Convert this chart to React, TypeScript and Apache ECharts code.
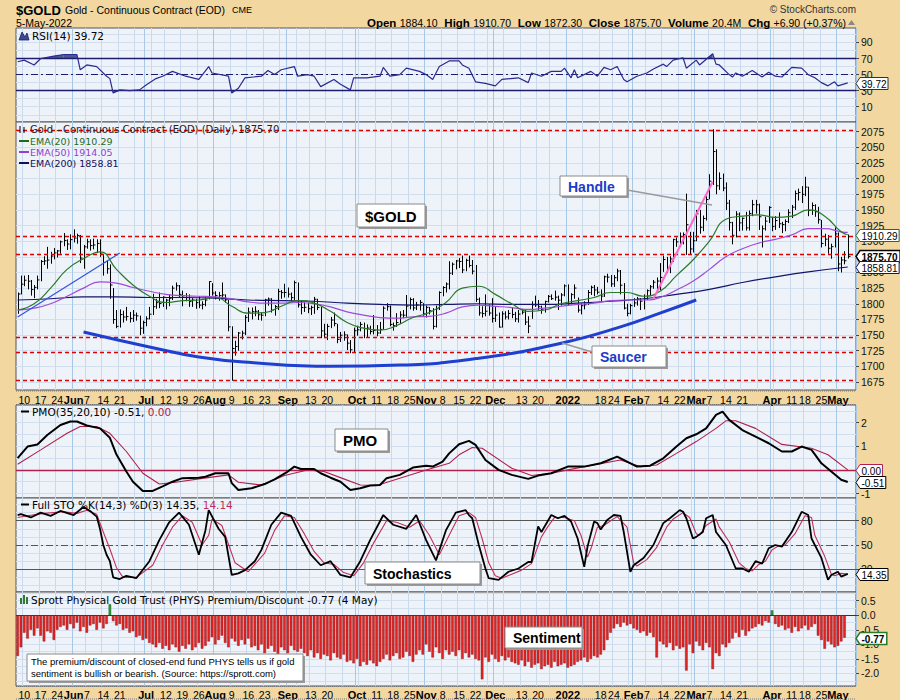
import React, { useEffect, useRef } from "react";
import * as echarts from "echarts";

// ---------------- DATA ----------------
const startDate = "2021-05-06";
const endDate = "2022-05-05";
const holidays = ["2021-05-31", "2021-07-05", "2021-09-06", "2021-11-25", "2021-12-24", "2022-01-17", "2022-02-21", "2022-04-15"];
const labelDates = ["2021-05-10", "2021-05-17", "2021-05-24", "2021-06-01", "2021-06-07", "2021-06-14", "2021-06-21", "2021-07-01", "2021-07-12", "2021-07-19", "2021-07-26", "2021-08-02", "2021-08-09", "2021-08-16", "2021-08-23", "2021-09-01", "2021-09-13", "2021-09-20", "2021-10-01", "2021-10-11", "2021-10-18", "2021-10-25", "2021-11-01", "2021-11-08", "2021-11-15", "2021-11-22", "2021-12-01", "2021-12-13", "2021-12-20", "2022-01-03", "2022-01-18", "2022-01-24", "2022-02-01", "2022-02-07", "2022-02-14", "2022-02-22", "2022-03-01", "2022-03-07", "2022-03-14", "2022-03-21", "2022-04-01", "2022-04-11", "2022-04-18", "2022-04-25", "2022-05-02"];
const monthNames = ["2022", "Feb", "Mar", "Apr", "May", "Jun", "Jul", "Aug", "Sep", "Oct", "Nov", "Dec"];

const highs = [
  1818, 1845, 1845, 1846, 1838, 1830, 1845, 1870, 1876, 1891, 1883, 1889, 1886, 1901, 1913, 1903, 1911,
  1919, 1912, 1910, 1894, 1904, 1903, 1904, 1903, 1903, 1878, 1870, 1863, 1825, 1790, 1791, 1789, 1795, 1787, 1790, 1786, 1781, 1773,
  1780, 1795, 1816, 1808, 1818, 1812, 1808, 1815, 1829, 1834, 1830, 1821, 1817, 1815, 1809, 1808, 1812, 1804, 1810, 1836, 1833,
  1820, 1819, 1834, 1815, 1806, 1764, 1741, 1755, 1757, 1782, 1794, 1794, 1796, 1790, 1786, 1808, 1810, 1809, 1798, 1824, 1822, 1832,
  1826, 1818, 1837, 1834, 1805, 1802, 1802, 1797, 1811, 1808, 1795, 1768, 1768, 1779, 1786, 1768, 1755, 1756, 1751, 1742, 1762,
  1765, 1771, 1770, 1767, 1765, 1782, 1766, 1771, 1796, 1801, 1797, 1770, 1785, 1788, 1790, 1814, 1810, 1809, 1803, 1806, 1801,
  1797, 1795, 1793, 1797, 1820, 1828, 1834, 1868, 1866, 1870, 1873, 1877, 1872, 1877, 1870, 1862, 1810, 1796, 1815, 1799, 1809,
  1795, 1786, 1788, 1788, 1790, 1794, 1787, 1790, 1792, 1790, 1780, 1804, 1813, 1806, 1797, 1805, 1814, 1815, 1821, 1813, 1817, 1831,
  1831, 1817, 1831, 1810, 1801, 1804, 1822, 1829, 1830, 1827, 1823, 1845, 1848, 1846, 1846, 1856, 1854, 1833, 1800, 1800,
  1809, 1811, 1809, 1815, 1823, 1830, 1838, 1842, 1865, 1877, 1875, 1876, 1904, 1906, 1914, 1914, 1976, 1915, 1915,
  1950, 1950, 1941, 1972, 2007, 2079, 2047, 2010, 2008, 1994, 1966, 1931, 1948, 1946, 1938, 1947, 1949, 1966, 1966, 1960, 1925, 1939, 1956,
  1939, 1940, 1946, 1931, 1935, 1951, 1958, 1981, 1984, 1988, 2003, 1987, 1962, 1959, 1955, 1934, 1912, 1910, 1896, 1922,
  1914, 1875, 1884, 1910.7,
];
const lows = [
  1784, 1815, 1828, 1823, 1813, 1809, 1823, 1836, 1862, 1856, 1864, 1871, 1874, 1880, 1892, 1886, 1887,
  1898, 1896, 1865, 1856, 1888, 1885, 1887, 1881, 1875, 1845, 1848, 1808, 1768, 1761, 1762, 1770, 1773, 1770, 1771, 1773, 1750, 1752,
  1764, 1775, 1782, 1792, 1793, 1795, 1791, 1796, 1806, 1821, 1810, 1796, 1804, 1795, 1795, 1792, 1793, 1791, 1796, 1807, 1813,
  1807, 1805, 1807, 1802, 1756, 1677, 1717, 1725, 1743, 1750, 1771, 1775, 1780, 1774, 1773, 1780, 1797, 1786, 1781, 1790, 1808, 1810,
  1810, 1805, 1806, 1794, 1783, 1787, 1785, 1782, 1784, 1790, 1745, 1745, 1742, 1761, 1764, 1737, 1739, 1741, 1726, 1721, 1723,
  1749, 1756, 1745, 1746, 1751, 1751, 1748, 1752, 1759, 1789, 1764, 1757, 1763, 1768, 1777, 1779, 1791, 1789, 1790, 1789, 1781,
  1778, 1783, 1759, 1762, 1790, 1812, 1818, 1823, 1846, 1855, 1857, 1849, 1852, 1858, 1847, 1803, 1781, 1778, 1780, 1781, 1770,
  1771, 1762, 1762, 1775, 1775, 1777, 1771, 1770, 1783, 1766, 1753, 1776, 1795, 1789, 1784, 1786, 1802, 1806, 1805, 1790, 1797, 1812,
  1798, 1799, 1808, 1786, 1783, 1791, 1798, 1814, 1812, 1815, 1804, 1811, 1834, 1827, 1827, 1836, 1815, 1791, 1780, 1783,
  1795, 1797, 1790, 1791, 1806, 1814, 1824, 1821, 1822, 1851, 1849, 1849, 1867, 1891, 1891, 1895, 1878, 1879, 1882,
  1900, 1912, 1916, 1933, 1967, 1990, 1975, 1982, 1980, 1950, 1917, 1895, 1906, 1916, 1917, 1917, 1917, 1940, 1944, 1918, 1890, 1917, 1929,
  1916, 1918, 1921, 1913, 1916, 1929, 1937, 1950, 1965, 1961, 1972, 1940, 1942, 1939, 1928, 1890, 1892, 1880, 1872, 1890,
  1852, 1850, 1863, 1872.3,
];
const closes = [
  1815.6, 1831.3, 1837.6, 1836.1, 1822.7, 1826.2, 1838.1, 1867.6, 1868.6, 1869.9, 1876.3, 1881.3, 1884.5, 1899.0, 1901.2, 1895.5, 1902.5,
  1905.0, 1909.0, 1873.0, 1891.0, 1899.0, 1893.0, 1894.0, 1896.4, 1879.6, 1866.0, 1856.0, 1830.0, 1774.8, 1763.9, 1782.8, 1778.8, 1779.5, 1776.7, 1781.8, 1780.7, 1761.0, 1770.1,
  1776.0, 1783.3, 1795.3, 1801.8, 1800.4, 1810.5, 1805.8, 1808.8, 1825.0, 1828.8, 1815.0, 1812.6, 1810.0, 1803.5, 1806.0, 1801.8, 1797.8, 1799.0, 1806.0, 1835.5, 1817.2,
  1813.3, 1813.1, 1814.1, 1806.4, 1763.1, 1728.5, 1731.7, 1753.2, 1753.1, 1778.2, 1786.8, 1787.4, 1788.0, 1782.4, 1781.8, 1806.2, 1807.6, 1789.7, 1795.5, 1819.5, 1817.9, 1818.1,
  1815.4, 1809.8, 1833.7, 1798.4, 1794.0, 1794.4, 1792.1, 1794.2, 1807.3, 1794.1, 1756.7, 1751.4, 1763.8, 1774.0, 1768.4, 1743.0, 1749.7, 1750.3, 1737.1, 1726.5, 1757.0,
  1758.4, 1767.0, 1760.3, 1761.2, 1755.6, 1757.3, 1753.3, 1759.0, 1793.0, 1795.4, 1767.0, 1765.0, 1770.0, 1782.2, 1781.8, 1796.3, 1806.8, 1793.4, 1798.0, 1802.1, 1783.9,
  1794.3, 1788.9, 1763.9, 1792.0, 1818.0, 1826.0, 1831.6, 1848.9, 1863.2, 1868.5, 1867.6, 1854.1, 1869.4, 1861.2, 1852.1, 1807.1, 1785.4, 1784.3, 1788.1, 1785.2, 1776.5,
  1781.9, 1762.7, 1783.9, 1779.0, 1784.6, 1782.9, 1775.8, 1783.5, 1786.5, 1770.8, 1764.3, 1798.3, 1798.2, 1795.2, 1790.4, 1803.5, 1811.8, 1808.2, 1810.6, 1805.8, 1814.1, 1828.6,
  1800.1, 1814.6, 1825.1, 1789.9, 1797.0, 1798.3, 1818.0, 1826.3, 1822.0, 1818.5, 1812.3, 1843.1, 1842.6, 1831.8, 1841.7, 1852.4, 1829.7, 1793.1, 1784.7, 1797.0,
  1801.4, 1807.7, 1804.1, 1807.8, 1820.9, 1827.2, 1834.5, 1836.3, 1842.1, 1870.7, 1856.1, 1871.7, 1902.5, 1898.9, 1907.3, 1910.6, 1926.3, 1887.6, 1900.7,
  1943.8, 1922.3, 1936.3, 1966.6, 1995.9, 2043.3, 1988.5, 2000.4, 1985.0, 1960.8, 1929.7, 1909.4, 1943.2, 1929.3, 1936.6, 1921.3, 1944.4, 1958.4, 1958.2, 1939.1, 1919.9, 1932.0, 1954.0,
  1923.7, 1933.0, 1927.9, 1926.6, 1931.6, 1945.6, 1954.4, 1976.1, 1977.9, 1974.9, 1986.4, 1949.1, 1957.1, 1947.0, 1934.3, 1896.4, 1903.2, 1888.7, 1891.3, 1911.7,
  1863.6, 1870.0, 1868.8, 1875.7,
];

// [trading-day index, value]
const ema20 = [[0, 1790], [5, 1800], [10, 1825], [15, 1855], [20, 1872], [25, 1883], [30, 1855], [35, 1830], [40, 1812], [45, 1802], [50, 1805], [55, 1806], [60, 1810], [65, 1796], [70, 1785], [75, 1786], [80, 1796], [85, 1805], [90, 1801], [95, 1788], [100, 1770], [105, 1761], [110, 1758], [115, 1765], [120, 1778], [125, 1786], [130, 1802], [135, 1825], [140, 1828], [145, 1815], [150, 1800], [155, 1788], [160, 1790], [165, 1800], [170, 1805], [175, 1810], [180, 1818], [185, 1818], [190, 1812], [195, 1820], [200, 1845], [205, 1870], [210, 1900], [215, 1935], [220, 1940], [225, 1942], [230, 1938], [235, 1940], [240, 1950], [245, 1940], [250, 1915], [252, 1910.29]];
const ema50 = [[0, 1790], [5, 1793], [10, 1800], [15, 1812], [20, 1825], [25, 1835], [30, 1833], [35, 1826], [40, 1820], [45, 1815], [50, 1813], [55, 1812], [60, 1811], [65, 1808], [70, 1803], [75, 1801], [80, 1801], [85, 1802], [90, 1800], [95, 1795], [100, 1787], [105, 1782], [110, 1778], [115, 1777], [120, 1779], [125, 1780], [130, 1785], [135, 1795], [140, 1798], [145, 1796], [150, 1794], [155, 1791], [160, 1793], [165, 1796], [170, 1799], [175, 1801], [180, 1805], [185, 1806], [190, 1806], [195, 1810], [200, 1822], [205, 1836], [210, 1855], [215, 1875], [220, 1888], [225, 1897], [230, 1903], [235, 1910], [240, 1920], [245, 1920], [250, 1915], [252, 1914.05]];
const ema200 = [[0, 1806], [10, 1808], [20, 1811], [30, 1811], [40, 1810], [50, 1810], [60, 1809], [70, 1806], [80, 1805], [90, 1804], [100, 1801], [110, 1799], [120, 1798], [130, 1799], [140, 1800], [150, 1799], [160, 1799], [170, 1801], [180, 1804], [190, 1808], [200, 1815], [210, 1823], [220, 1834], [230, 1843], [240, 1851], [252, 1858.81]];

const rsi = [[0, 66], [2, 68], [5, 62], [7, 70], [11, 73], [14, 75], [18, 75], [19, 56], [21, 62], [24, 60], [27, 48], [28, 45], [29, 27], [31, 31], [34, 30], [37, 31], [39, 37], [42, 45], [44, 48], [47, 54], [51, 48], [55, 44], [58, 60], [59, 52], [64, 48], [65, 27], [67, 33], [69, 46], [74, 48], [76, 55], [78, 50], [80, 56], [84, 60], [85, 48], [88, 50], [90, 48], [92, 35], [96, 44], [98, 38], [101, 31], [102, 46], [106, 46], [110, 48], [111, 59], [113, 48], [116, 50], [118, 58], [122, 54], [124, 50], [126, 44], [128, 60], [131, 67], [134, 67], [135, 62], [137, 58], [139, 41], [142, 39], [145, 36], [147, 44], [152, 46], [155, 40], [156, 52], [159, 48], [162, 54], [165, 54], [166, 58], [168, 46], [169, 56], [170, 46], [174, 54], [176, 48], [178, 59], [180, 56], [182, 60], [184, 44], [185, 41], [188, 48], [191, 52], [193, 57], [196, 63], [197, 60], [199, 68], [202, 71], [203, 58], [206, 68], [207, 62], [211, 76], [212, 63], [213, 62], [216, 50], [217, 47], [218, 52], [220, 48], [223, 55], [226, 47], [228, 53], [230, 48], [232, 47], [235, 59], [238, 58], [240, 50], [242, 46], [244, 40], [246, 36], [248, 41], [249, 36], [252, 39.72]];

const pmo = [[0, 0.5], [3, 0.99], [6, 1.08], [9, 1.48], [13, 1.9], [16, 2.05], [18, 2.05], [21, 1.88], [25, 1.76], [28, 1.36], [30, 0.65], [33, -0.07], [35, -0.5], [38, -0.89], [41, -0.89], [44, -0.7], [47, -0.5], [50, -0.35], [55, -0.33], [57, -0.29], [60, -0.14], [64, -0.14], [65, -0.56], [67, -0.85], [71, -0.78], [75, -0.6], [78, -0.4], [82, -0.07], [84, 0.14], [86, 0.04], [90, 0.04], [92, -0.14], [95, -0.33], [98, -0.5], [101, -0.85], [104, -0.78], [107, -0.66], [110, -0.64], [112, -0.35], [116, -0.21], [120, 0.1], [124, 0.18], [126, 0.14], [129, 0.35], [131, 0.7], [134, 1.09], [137, 1.23], [139, 1.06], [142, 0.42], [146, 0], [150, -0.21], [155, -0.38], [158, -0.24], [162, -0.14], [167, 0.14], [172, 0.14], [177, 0.28], [182, 0.56], [185, 0.35], [188, 0.14], [192, 0.18], [196, 0.49], [200, 0.99], [203, 1.34], [206, 1.51], [209, 1.76], [212, 2.33], [214, 2.47], [216, 2.12], [220, 1.69], [224, 1.41], [228, 1.13], [232, 0.78], [235, 0.78], [238, 0.99], [241, 0.85], [244, 0.28], [247, -0.07], [250, -0.42], [252, -0.51]];
const pmoSignal = [[0, 0.24], [7, 0.85], [15, 1.55], [19, 1.84], [24, 1.84], [28, 1.55], [33, 0.78], [38, -0.14], [43, -0.6], [48, -0.52], [55, -0.38], [64, -0.21], [67, -0.52], [74, -0.64], [81, -0.24], [88, 0], [93, -0.07], [99, -0.38], [104, -0.64], [109, -0.66], [116, -0.35], [124, 0], [131, 0.28], [134, 0.64], [138, 0.95], [141, 0.92], [150, 0.07], [156, -0.24], [162, -0.14], [172, 0.14], [183, 0.42], [189, 0.14], [194, 0.21], [200, 0.7], [206, 1.2], [212, 1.76], [215, 2.08], [218, 2.08], [224, 1.76], [232, 1.08], [241, 0.92], [246, 0.64], [252, 0]];

const stoK = [[0, 87], [1, 88], [4, 84], [7, 90], [10, 86], [13, 92], [17, 87], [20, 97], [22, 92], [24, 85], [25, 70], [26, 50], [27, 38], [28, 30], [29, 10], [31, 8], [33, 12], [36, 9], [40, 30], [43, 56], [46, 78], [49, 90], [52, 75], [55, 38], [57, 68], [58, 93], [61, 70], [63, 60], [65, 13], [67, 15], [69, 19], [72, 30], [74, 44], [77, 75], [80, 90], [83, 86], [86, 60], [89, 38], [92, 25], [95, 30], [98, 13], [101, 10], [104, 30], [107, 56], [111, 87], [114, 75], [118, 70], [121, 87], [124, 56], [127, 31], [130, 68], [133, 90], [136, 93], [137, 87], [138, 83], [140, 50], [142, 21], [143, 9], [146, 7], [149, 17], [152, 21], [155, 29], [156, 29], [158, 73], [159, 66], [162, 87], [164, 83], [166, 86], [168, 79], [170, 58], [172, 23], [173, 48], [175, 79], [176, 77], [177, 69], [179, 81], [181, 87], [183, 86], [184, 66], [186, 17], [187, 25], [190, 34], [193, 50], [196, 77], [198, 83], [201, 93], [202, 91], [203, 83], [205, 58], [206, 60], [208, 66], [209, 83], [211, 87], [212, 66], [215, 50], [218, 21], [220, 21], [222, 17], [224, 30], [226, 27], [228, 46], [230, 50], [232, 48], [235, 66], [238, 91], [240, 87], [241, 58], [244, 34], [246, 7], [247, 13], [249, 17], [250, 11], [252, 14.35]];
const stoD = [[0, 84], [3, 86], [8, 89], [14, 91], [18, 89], [21, 93], [24, 88], [26, 66], [28, 45], [30, 22], [32, 10], [36, 10], [41, 25], [44, 50], [47, 72], [50, 86], [53, 78], [56, 50], [58, 62], [59, 82], [62, 74], [66, 28], [70, 17], [75, 40], [78, 68], [81, 86], [84, 84], [87, 64], [90, 42], [93, 28], [96, 26], [99, 16], [102, 12], [105, 28], [108, 52], [112, 80], [115, 78], [119, 72], [122, 80], [125, 62], [128, 38], [131, 62], [134, 86], [137, 90], [139, 84], [141, 58], [143, 28], [145, 12], [147, 9], [150, 14], [153, 19], [156, 27], [159, 60], [161, 73], [163, 84], [166, 84], [169, 80], [171, 62], [173, 35], [174, 45], [176, 72], [178, 74], [180, 80], [182, 85], [185, 72], [187, 28], [188, 24], [191, 32], [194, 47], [197, 72], [199, 82], [202, 90], [204, 84], [206, 64], [207, 62], [209, 74], [212, 82], [213, 72], [216, 54], [219, 28], [221, 21], [223, 18], [225, 26], [227, 30], [229, 44], [231, 49], [233, 50], [236, 64], [239, 86], [241, 84], [242, 62], [245, 36], [247, 14], [248, 12], [250, 15], [252, 14.14]];

const sentiment = [
  -1.4, -1.1,
  -0.6, -0.8, -0.5, -0.7,
  -0.45, -0.7, -0.9, -0.55, -0.6, -0.85, -0.5, -0.4,
  -0.35, -0.5, -0.3, -0.45, -0.25, -0.55, -0.4, -0.6, -0.35, -0.3, -0.5, -0.25, -0.45, -0.3,
  0.38,
  -0.2, -0.35, -0.3, -0.5, -0.45, -0.6, -0.55, -0.75, -0.7, -0.85, -0.8, -0.95,
  -1.0, -1.1, -0.95, -1.15, -1.05, -1.2, -1.0, -1.1, -1.25, -1.05, -1.15, -1.0, -1.2, -1.1, -0.95, -1.15, -1.05,
  -0.9, -0.75, -1.0, -0.85, -0.7, -0.95, -1.1, -0.8, -0.9, -1.05, -0.85, -1.0, -0.8, -1.1,
  -1.05, -1.2, -1.0, -1.3, -1.15, -1.05, -1.25, -1.35, -1.1, -1.2, -1.3, -1.05, -1.2, -1.25, -1.15,
  -1.3, -1.4, -1.2, -1.45, -1.3, -1.5, -1.35, -1.4, -1.55, -1.3, -1.45, -1.5, -1.35, -1.6, -1.55,
  -1.65, -1.5, -1.75, -1.6, -1.7, -1.55, -1.65, -1.75, -1.6, -1.5,
  -1.35, -1.55, -1.4, -1.3, -1.5, -1.45, -1.25, -1.4, -1.6, -1.35,
  -1.2, -1.35, -1.0, -1.25, -1.45, -1.1, -1.3, -1.5, -1.2, -1.35,
  -1.25, -1.4, -1.2, -1.5, -1.3, -1.45, -1.35, -1.5, -1.55,
  -2.2,
  -1.45, -1.6, -1.35, -1.5, -1.6, -1.4, -1.55, -1.45, -1.6,
  -1.65, -1.7, -1.55, -1.75, -1.6, -1.8, -1.7, -1.65, -1.85, -1.75, -1.7, -1.8, -1.6, -1.75, -1.7, -1.65, -1.8, -1.75, -1.7, -1.6,
  -1.55, -1.45, -1.6, -1.5, -1.4, -1.45, -1.35,
  -1.2, -0.85, -0.6, -0.45,
  -0.3, -0.4, -0.25, -0.35, -0.3, -0.45, -0.5, -0.6, -0.55,
  -0.7, -0.6, -0.75, -1.45,
  -0.9, -1.0, -1.1, -0.95, -1.2, -1.05, -1.15, -1.1,
  -1.9,
  -1.0, -1.3, -0.9, -1.05, -1.2, -0.95,
  -1.1,
  -1.85,
  -1.3, -1.4, -1.0, -1.1, -0.95, -0.8,
  -0.6, -0.75, -0.5, -0.7, -0.55, -0.45,
  -0.4, -0.3, -0.35, -0.2, -0.25, 0.17,
  -0.3, -0.4, -0.35, -0.5, -0.45, -0.6, -0.4, -0.55, -0.45, -0.35, -0.5, -0.4, -0.3,
  -0.7, -0.85, -1.15, -0.9, -1.0,
  -1.1, -1.05, -0.9, -0.77,
];

const redLevels = [2078, 1908, 1879, 1747, 1722, 1677];
const saucerPts = [[20, 1755], [40, 1731], [55, 1715], [71, 1706], [95, 1700], [116, 1702], [140, 1713], [165, 1737], [183, 1763], [195, 1785], [206, 1806]];
const trendLeftPts = [[0, 1779], [31, 1881]];
const handlePts = [[193, 1808], [211, 1995]];

const rsiLabels = [90, 70, 50, 30, 10];
const priceLabels = [2075, 2050, 2025, 2000, 1975, 1950, 1925, 1900, 1850, 1825, 1800, 1775, 1750, 1725, 1700, 1675];
const pmoLabels = [2, 1, -1];
const stoLabels = [80, 50, 20];
const sentLabels = [0.5, 0, -0.5, -1, -1.5, -2];

// ---------------- HELPERS ----------------
function buildDates(): string[] {
  const out: string[] = [];
  const d = new Date(startDate + "T12:00:00Z");
  const end = new Date(endDate + "T12:00:00Z");
  while (d <= end) {
    const wd = d.getUTCDay();
    const s = d.toISOString().slice(0, 10);
    if (wd !== 0 && wd !== 6 && holidays.indexOf(s) < 0) out.push(s);
    d.setUTCDate(d.getUTCDate() + 1);
  }
  return out;
}
function textWidth(t: string, fs: number): number {
  let w = 0;
  for (const ch of t) w += ch === "." ? 0.278 : ch === "-" ? 0.333 : 0.556;
  return w * fs;
}

const SANS = "'Liberation Sans', Arial, sans-serif";
const VER = "'DejaVu Sans', Verdana, sans-serif";
const TAN = "#F2D7A1";
const PLOT_BG = "#EEF3FA";
const GRID_H = "#D3DEEE";
const WEEK_C = "#CADAEE";
const MONTH_C = "#A7C8E6";

export default function App() {
  const ref = useRef<HTMLDivElement>(null);
  useEffect(() => {
    if (!ref.current) return;
    const chart = echarts.init(ref.current, undefined, { renderer: "svg" });
    const dates = buildDates();
    const cats = dates.concat(["pad1", "pad2"]);
    const weekSet = new Set<number>();
    const monthSet = new Set<number>();
    for (let i = 1; i < dates.length; i++) {
      const cur = new Date(dates[i] + "T12:00:00Z");
      const prev = new Date(dates[i - 1] + "T12:00:00Z");
      if (cur.getUTCDay() <= prev.getUTCDay()) weekSet.add(i);
      if (cur.getUTCMonth() !== prev.getUTCMonth()) monthSet.add(i);
    }
    const labelSet = new Set<number>(labelDates.map((d) => dates.indexOf(d)));

    const grids = [
      { top: 28, height: 94 },
      { top: 122, height: 268 },
      { top: 405, height: 93 },
      { top: 498, height: 94 },
      { top: 592, height: 94 },
    ];
    const grid = grids.map((g) => ({
      left: 16, width: 840, top: g.top, height: g.height, show: true,
      backgroundColor: PLOT_BG, borderColor: "#555", borderWidth: 1, containLabel: false,
    }));

    const labelFmt = (val: string) => {
      const i = dates.indexOf(val);
      if (i < 0) return "";
      const d = new Date(val + "T12:00:00Z");
      if (monthSet.has(i)) return "{b|" + monthNames[d.getUTCMonth()] + "}";
      return String(d.getUTCDate());
    };
    const xAxis: any[] = [];
    grids.forEach((g, gi) => {
      const showLab = gi === 1 || gi === 4;
      xAxis.push({
        type: "category", gridIndex: gi, data: cats, boundaryGap: true,
        axisLine: { show: false }, axisTick: { show: false },
        axisLabel: showLab
          ? {
              show: true, interval: (i: number) => labelSet.has(i), formatter: labelFmt, margin: gi === 1 ? 4 : 3,
              fontFamily: SANS, fontSize: 10.5, color: "#000",
              rich: { b: { fontFamily: SANS, fontSize: 11, fontWeight: "bold", color: "#000" } },
            }
          : { show: false },
        splitLine: { show: true, interval: (i: number) => weekSet.has(i) && !monthSet.has(i), lineStyle: { color: WEEK_C, width: 1 } },
      });
      xAxis.push({
        type: "category", gridIndex: gi, data: cats, boundaryGap: true, position: "bottom",
        axisLine: { show: false }, axisTick: { show: false }, axisLabel: { show: false },
        splitLine: { show: true, interval: (i: number) => monthSet.has(i), lineStyle: { color: MONTH_C, width: 1 } },
      });
    });

    const range = (a: number, b: number, s: number) => {
      const r: number[] = [];
      for (let v = a; v <= b + 1e-9; v += s) r.push(Math.round(v * 1000) / 1000);
      return r;
    };
    const axisDefs = [
      { gi: 0, min: -9, max: 108, labels: rsiLabels, gridVals: range(0, 100, 10) },
      { gi: 1, min: 1662.2, max: 2090.5, labels: priceLabels, gridVals: range(1675, 2075, 25) },
      { gi: 2, min: -1.19, max: 2.75, labels: pmoLabels, gridVals: range(-1, 2.5, 0.5) },
      { gi: 3, min: -8, max: 108, labels: stoLabels, gridVals: range(0, 100, 10) },
      { gi: 4, min: -2.43, max: 0.8, labels: sentLabels, gridVals: range(-2.25, 0.75, 0.25), fmt: (v: number) => v.toFixed(1) },
    ];
    const yAxis: any[] = axisDefs.map((a) => ({
      type: "value", gridIndex: a.gi, position: "right", min: a.min, max: a.max, scale: true,
      axisLine: { show: false },
      axisTick: { show: false, customValues: a.gridVals },
      axisLabel: {
        show: true, customValues: a.labels, margin: 5, fontFamily: SANS, fontSize: 10.5, color: "#111",
        formatter: a.fmt || ((v: number) => String(v)),
      },
      splitLine: { show: true, lineStyle: { color: GRID_H, width: 1 } },
    }));
    // tick marks at labelled values (second right axis per panel)
    axisDefs.forEach((a) => {
      yAxis.push({
        type: "value", gridIndex: a.gi, position: "right", min: a.min, max: a.max, scale: true,
        axisLine: { show: false }, axisLabel: { show: false }, splitLine: { show: false },
        axisTick: { show: true, customValues: a.labels, length: 3, lineStyle: { color: "#444", width: 1 } },
      });
    });

    const ml = (items: any[]) => ({ silent: true, symbol: "none", label: { show: false }, animation: false, data: items });
    const navy = "#1C1C6E";
    const series: any[] = [
      {
        type: "line", xAxisIndex: 0, yAxisIndex: 0, data: rsi, showSymbol: false, z: 5,
        lineStyle: { color: "#2B2B8F", width: 1.2 },
        markLine: ml([
          { yAxis: 70, lineStyle: { color: navy, width: 1.3, type: "solid" } },
          { yAxis: 30, lineStyle: { color: navy, width: 1.3, type: "solid" } },
          { yAxis: 50, lineStyle: { color: navy, width: 1.2, type: [7, 3, 2, 3] } },
        ]),
      },
      {
        // RSI overbought / oversold shading (between the RSI line and the 70 / 30 levels)
        type: "custom", xAxisIndex: 0, yAxisIndex: 0, z: 4, silent: true,
        data: rsi.slice(0, -1),
        encode: { x: 0, y: 1 },
        renderItem: (params: any, api: any) => {
          const k = params.dataIndex;
          const a = rsi[k];
          const b = rsi[k + 1];
          const children: any[] = [];
          const levels: [number, number][] = [[70, 1], [30, -1]];
          levels.forEach(([th, sgn]) => {
            const fa = (a[1] - th) * sgn;
            const fb = (b[1] - th) * sgn;
            if (fa <= 0 && fb <= 0) return;
            let pts: number[][];
            if (fa > 0 && fb > 0) pts = [[a[0], a[1]], [b[0], b[1]], [b[0], th], [a[0], th]];
            else {
              const t = fa / (fa - fb);
              const xi = a[0] + t * (b[0] - a[0]);
              pts = fa > 0 ? [[a[0], a[1]], [xi, th], [a[0], th]] : [[xi, th], [b[0], b[1]], [b[0], th]];
            }
            children.push({ type: "polygon", shape: { points: pts.map((p) => api.coord(p)) }, style: { fill: "#4A5896" } });
          });
          return { type: "group", children };
        },
      },
      {
        type: "custom", xAxisIndex: 2, yAxisIndex: 1, z: 4,
        data: highs.map((h, i) => [i, h, lows[i], closes[i]]),
        encode: { x: 0, y: [1, 2, 3] },
        renderItem: (params: any, api: any) => {
          const i = api.value(0);
          const hi = api.coord([i, api.value(1)]);
          const lo = api.coord([i, api.value(2)]);
          const cl = api.coord([i, api.value(3)]);
          const x = Math.round(hi[0]) + 0.5;
          return {
            type: "group",
            children: [
              { type: "line", shape: { x1: x, y1: hi[1], x2: x, y2: lo[1] }, style: { stroke: "#000", lineWidth: 1 } },
              { type: "line", shape: { x1: x, y1: cl[1], x2: x + 2, y2: cl[1] }, style: { stroke: "#000", lineWidth: 1 } },
            ],
          };
        },
        markLine: ml(redLevels.map((v) => ({ yAxis: v, lineStyle: { color: "#E00000", width: 1.3, type: [4, 3] } }))),
      },
      { type: "line", xAxisIndex: 2, yAxisIndex: 1, data: ema200, showSymbol: false, smooth: true, z: 5, lineStyle: { color: "#14146A", width: 1.2 } },
      { type: "line", xAxisIndex: 2, yAxisIndex: 1, data: ema50, showSymbol: false, smooth: true, z: 5, lineStyle: { color: "#A04BD8", width: 1.2 } },
      { type: "line", xAxisIndex: 2, yAxisIndex: 1, data: ema20, showSymbol: false, smooth: true, z: 5, lineStyle: { color: "#2A7A2A", width: 1.2 } },
      { type: "line", xAxisIndex: 2, yAxisIndex: 1, data: trendLeftPts, showSymbol: false, z: 6, lineStyle: { color: "#3355DD", width: 1.2 } },
      { type: "line", xAxisIndex: 2, yAxisIndex: 1, data: handlePts, showSymbol: false, z: 6, lineStyle: { color: "#FF66CC", width: 2 } },
      { type: "line", xAxisIndex: 2, yAxisIndex: 1, data: saucerPts, showSymbol: false, smooth: true, z: 6, lineStyle: { color: "#1E3FD0", width: 3 } },
      {
        type: "line", xAxisIndex: 4, yAxisIndex: 2, data: pmoSignal, showSymbol: false, z: 5, lineStyle: { color: "#B0204A", width: 1.1 },
        markLine: ml([{ yAxis: 0, lineStyle: { color: "#B0204A", width: 1.3, type: "solid" } }]),
      },
      { type: "line", xAxisIndex: 4, yAxisIndex: 2, data: pmo, showSymbol: false, z: 6, lineStyle: { color: "#000", width: 2 } },
      {
        type: "line", xAxisIndex: 6, yAxisIndex: 3, data: stoD, showSymbol: false, z: 5, lineStyle: { color: "#C0305A", width: 1.1 },
        markLine: ml([
          { yAxis: 80, lineStyle: { color: "#555", width: 1.2, type: "solid" } },
          { yAxis: 20, lineStyle: { color: "#555", width: 1.2, type: "solid" } },
          { yAxis: 50, lineStyle: { color: "#555", width: 1, type: [7, 3, 2, 3] } },
        ]),
      },
      { type: "line", xAxisIndex: 6, yAxisIndex: 3, data: stoK, showSymbol: false, z: 6, lineStyle: { color: "#000", width: 1.8 } },
      {
        type: "bar", xAxisIndex: 8, yAxisIndex: 4, barWidth: 2.6, z: 5,
        data: sentiment.map((v) => ({ value: v, itemStyle: { color: v >= 0 ? "#2E9A3A" : "#E02424", borderColor: v >= 0 ? "#1C5A22" : "#8A1414", borderWidth: 0.4 } })),
        markLine: ml([{ yAxis: 0, lineStyle: { color: "#2A2A7A", width: 1.2, type: "solid" } }]),
      },
    ];

    chart.setOption({ animation: false, backgroundColor: TAN, grid, xAxis, yAxis, series });

    // ------- graphics -------
    const g: any[] = [];
    const txt = (x: number, y: number, text: string, font: string, fill = "#000", align = "left") => ({
      type: "text", x, y, z: 100, style: { text, font, fill, align, verticalAlign: "middle" },
    });
    // header
    g.push(txt(16, 10, "$GOLD", `bold 13px ${SANS}`));
    g.push(txt(65, 9.5, "Gold - Continuous Contract (EOD)", `10.5px ${SANS}`));
    g.push(txt(232, 10, "CME", `9px ${SANS}`));
    g.push(txt(16, 23, "5-May-2022", `10.5px ${SANS}`));
    g.push(txt(856, 9, "© StockCharts.com", `10px ${SANS}`, "#333", "right"));
    g.push({
      type: "text", x: 846, y: 23, z: 100,
      style: {
        text: "{b|Open} {n|1884.10}  {b|High} {n|1910.70}  {b|Low} {n|1872.30}  {b|Close} {n|1875.70}  {b|Volume} {n|20.4M}  {b|Chg} {n|+6.90 (+0.37%)}",
        align: "right", verticalAlign: "middle", fill: "#000",
        rich: { b: { font: `bold 11.5px ${SANS}`, fill: "#000" }, n: { font: `10.5px ${SANS}`, fill: "#000" } },
      },
    });
    g.push({ type: "polygon", z: 100, shape: { points: [[848, 25], [855, 25], [851.5, 20]] }, style: { fill: "#888" } });

    // panel legends
    g.push({ type: "polygon", z: 100, shape: { points: [[19, 40], [22, 32], [25, 37], [27, 33], [29, 40]] }, style: { fill: "#3B4D8C", stroke: "#1C1C6E", lineWidth: 0.8 } });
    g.push(txt(32, 36, "RSI(14) 39.72", `10.5px ${VER}`, "#000"));
    g.push({ type: "line", z: 100, shape: { x1: 20, y1: 126, x2: 20, y2: 133 }, style: { stroke: "#000", lineWidth: 1 } });
    g.push({ type: "line", z: 100, shape: { x1: 24, y1: 127, x2: 24, y2: 133 }, style: { stroke: "#000", lineWidth: 1 } });
    g.push(txt(30, 129.5, "Gold - Continuous Contract (EOD) (Daily) 1875.70", `10px ${VER}`, "#222"));
    const emaLeg = [["EMA(20) 1910.29", "#1E6B1E", 141], ["EMA(50) 1914.05", "#9040D0", 152], ["EMA(200) 1858.81", "#101060", 163]];
    emaLeg.forEach(([t, c, y]: any) => {
      g.push({ type: "line", z: 100, shape: { x1: 19, y1: y, x2: 29, y2: y }, style: { stroke: c, lineWidth: 2 } });
      g.push(txt(30, y, t, `9.5px ${VER}`, c));
    });
    g.push({ type: "line", z: 100, shape: { x1: 21, y1: 411.5, x2: 29, y2: 411.5 }, style: { stroke: "#000", lineWidth: 2 } });
    g.push({
      type: "text", x: 32, y: 411.5, z: 100,
      style: { text: "{a|PMO(35,20,10) -0.51,} {r|0.00}", verticalAlign: "middle", rich: { a: { font: `10.5px ${VER}`, fill: "#000" }, r: { font: `10.5px ${VER}`, fill: "#B0204A" } } },
    });
    g.push({ type: "line", z: 100, shape: { x1: 21, y1: 504.5, x2: 29, y2: 504.5 }, style: { stroke: "#000", lineWidth: 2 } });
    g.push({
      type: "text", x: 32, y: 504.5, z: 100,
      style: { text: "{a|Full STO %K(14,3) %D(3) 14.35,} {r|14.14}", verticalAlign: "middle", rich: { a: { font: `10.5px ${VER}`, fill: "#000" }, r: { font: `10.5px ${VER}`, fill: "#C0305A" } } },
    });
    g.push({ type: "rect", z: 100, shape: { x: 20, y: 598, width: 2, height: 6 }, style: { fill: "#2E7A2E" } });
    g.push({ type: "rect", z: 100, shape: { x: 23, y: 595, width: 2, height: 9 }, style: { fill: "#2E7A2E" } });
    g.push({ type: "rect", z: 100, shape: { x: 26, y: 597, width: 2, height: 7 }, style: { fill: "#2E7A2E" } });
    g.push(txt(31, 600, "Sprott Physical Gold Trust (PHYS) Premium/Discount -0.77 (4 May)", `10.5px ${VER}`, "#000"));

    // date strips dotted borders
    [391, 404.5, 686.5, 699].forEach((y) => {
      g.push({ type: "line", z: 90, shape: { x1: 16, y1: y, x2: 856, y2: y }, style: { stroke: "#777", lineWidth: 1, lineDash: [1, 1] } });
    });

    // annotation boxes
    const box = (x: number, y: number, w: number, h: number, text: string, color: string, size = 14) => {
      g.push({ type: "rect", z: 110, shape: { x: x + 2, y: y + 2, width: w, height: h }, style: { fill: "#9A9A9A" } });
      g.push({ type: "rect", z: 111, shape: { x, y, width: w, height: h }, style: { fill: "#fff", stroke: "#8A8A8A", lineWidth: 1 } });
      g.push({ type: "text", z: 112, x: x + 8, y: y + h / 2 + 0.5, style: { text, font: `bold ${size}px ${SANS}`, fill: color, verticalAlign: "middle" } });
    };
    g.push({ type: "line", z: 105, shape: { x1: 627, y1: 190, x2: 712, y2: 205 }, style: { stroke: "#9A9A9A", lineWidth: 1.5 } });
    g.push({ type: "line", z: 105, shape: { x1: 592, y1: 352, x2: 562, y2: 343 }, style: { stroke: "#9A9A9A", lineWidth: 1.5 } });
    box(357, 204, 68, 23, "$GOLD", "#000", 15);
    box(560, 176, 67, 20, "Handle", "#1A3CC8", 14);
    box(592, 346, 74, 21, "Saucer", "#1A3CC8", 14);
    box(335, 429, 53, 22, "PMO", "#000", 15);
    box(365, 562, 115, 22, "Stochastics", "#000", 14);
    box(505, 627, 77, 21, "Sentiment", "#000", 14);
    g.push({ type: "rect", z: 110, shape: { x: 29, y: 656, width: 276, height: 27 }, style: { fill: "#9A9A9A" } });
    g.push({ type: "rect", z: 111, shape: { x: 27, y: 654, width: 276, height: 27 }, style: { fill: "#fff", stroke: "#8A8A8A", lineWidth: 1 } });
    g.push({ type: "text", z: 112, x: 31, y: 661.5, style: { text: "The premium/discount of closed-end fund PHYS tells us if gold", font: `9.5px ${SANS}`, fill: "#000", verticalAlign: "middle" } });
    g.push({ type: "text", z: 112, x: 31, y: 673.5, style: { text: "sentiment is bullish or bearish. (Source: https://sprott.com)", font: `9.5px ${SANS}`, fill: "#000", verticalAlign: "middle" } });

    // value tags on right axes, placed through the axis scales
    const tags = [
      { gi: 0, v: 39.72, t: "39.72", c: "#333", bold: false },
      { gi: 1, v: 1910.29, t: "1910.29", c: "#2A6A2A", bold: false },
      { gi: 1, v: 1875.7, t: "1875.70", c: "#000", bold: true },
      { gi: 1, v: 1858.81, t: "1858.81", c: "#14146A", bold: false },
      { gi: 2, v: 0, t: "0.00", c: "#B0204A", bold: false },
      { gi: 2, v: -0.51, t: "-0.51", c: "#000", bold: false },
      { gi: 3, v: 14.35, t: "14.35", c: "#000", bold: false },
      { gi: 4, v: -0.77, t: "-0.77", c: "#2A7A2A", bold: true },
    ];
    tags.forEach((tg) => {
      const p = chart.convertToPixel({ gridIndex: tg.gi } as any, [0, tg.v]) as number[];
      const y = Math.round(p[1]) + 0.5;
      const fs = 10;
      const w = textWidth(tg.t, fs) + (tg.bold ? 4 : 3);
      const x0 = 856;
      g.push({ type: "polygon", z: 120, shape: { points: [[x0, y], [x0 + 4, y - 6], [x0 + 4 + w, y - 6], [x0 + 4 + w, y + 6], [x0 + 4, y + 6]] }, style: { fill: "#fff", stroke: tg.c, lineWidth: tg.bold ? 1.5 : 1 } });
      g.push({ type: "text", z: 121, x: x0 + 5.5, y: y + 0.5, style: { text: tg.t, font: `${tg.bold ? "bold " : ""}${fs}px ${SANS}`, fill: "#000", verticalAlign: "middle" } });
    });

    chart.setOption({ graphic: g });
    return () => chart.dispose();
  }, []);
  return <div ref={ref} style={{ position: "fixed", left: 0, top: 0, width: 900, height: 700 }} />;
}
